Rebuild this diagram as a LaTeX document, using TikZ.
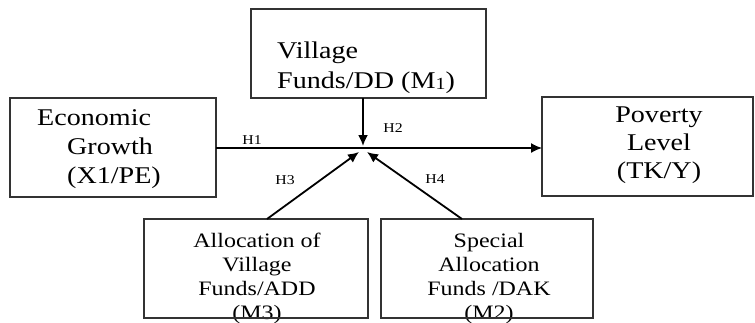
\documentclass[tikz,border=0pt]{standalone}
\usepackage{fontspec}
\setmainfont{Liberation Serif}[FakeStretch=1.17]
\usetikzlibrary{arrows.meta}
\tikzset{
  box/.style={draw=black!80, line width=1.3pt, rectangle, anchor=north west, inner sep=0pt, outer sep=0pt},
  bigtxt/.style={inner sep=0pt, font=\fontsize{24}{29}\selectfont},
  smalltxt/.style={inner sep=0pt, font=\fontsize{20.5}{24}\selectfont},
  hlab/.style={inner sep=0pt, font=\fontsize{13.5}{15}\selectfont},
  conn/.style={line width=1.8pt, black},
  tip/.style={-{Latex[length=11pt,width=10pt]}}
}
\begin{document}
\begin{tikzpicture}[x=1pt,y=-1pt]
\useasboundingbox (0,0) rectangle (755,322);
% boxes
\node[box, minimum width=206pt, minimum height=99pt] (econ) at (10,98) {};
\node[box, minimum width=235pt, minimum height=89pt] (vf) at (251,9) {};
\node[box, minimum width=211pt, minimum height=99pt] (pov) at (542,97) {};
\node[box, minimum width=224pt, minimum height=99pt] (add) at (144,219) {};
\node[box, minimum width=212pt, minimum height=99pt] (dak) at (381,219) {};
% texts (base anchor = baseline of last line)
\node[bigtxt, anchor=base west, align=left] (teco) at (37,183) {Economic\\\hspace*{30pt}Growth\\\hspace*{30pt}(X1/PE)};
\node[bigtxt, anchor=base west, align=left, font=\fontsize{24}{30}\selectfont] (tvf) at (277,88) {Village\\Funds/DD (M\raisebox{-1pt}{\fontsize{17}{17}\selectfont 1})};
\node[bigtxt, anchor=base, align=center, font=\fontsize{24}{28}\selectfont] (tpov) at (659,178) {Poverty\\Level\\(TK/Y)};
\node[smalltxt, anchor=base, align=center] (tadd) at (257,319) {Allocation of\\Village\\Funds/ADD\\(M3)};
\node[smalltxt, anchor=base, align=center] (tdak) at (489,319) {Special\\Allocation\\Funds /DAK\\(M2)};
% redraw bottom borders over the text
\draw[draw=black!80, line width=1.3pt] (add.south west) -- (add.south east);
\draw[draw=black!80, line width=1.3pt] (dak.south west) -- (dak.south east);
% junction
\coordinate (J) at (363,148);
\coordinate (JL) at (359,152);
\coordinate (JR) at (367,152);
% connectors
\draw[conn, line width=1.4pt, tip] (econ.east |- J) -- (pov.west |- J);
\draw[conn, tip] (vf.south -| J) -- (363,146);
\draw[conn, tip] ([xshift=11pt]add.north) -- (JL);
\draw[conn, tip] ([xshift=-25pt]dak.north) -- (JR);
% labels
\node[hlab] (h1) at (252,140) {H1};
\node[hlab] (h2) at (393,128) {H2};
\node[hlab] (h3) at (285,180) {H3};
\node[hlab] (h4) at (435,179) {H4};
\end{tikzpicture}
\end{document}
